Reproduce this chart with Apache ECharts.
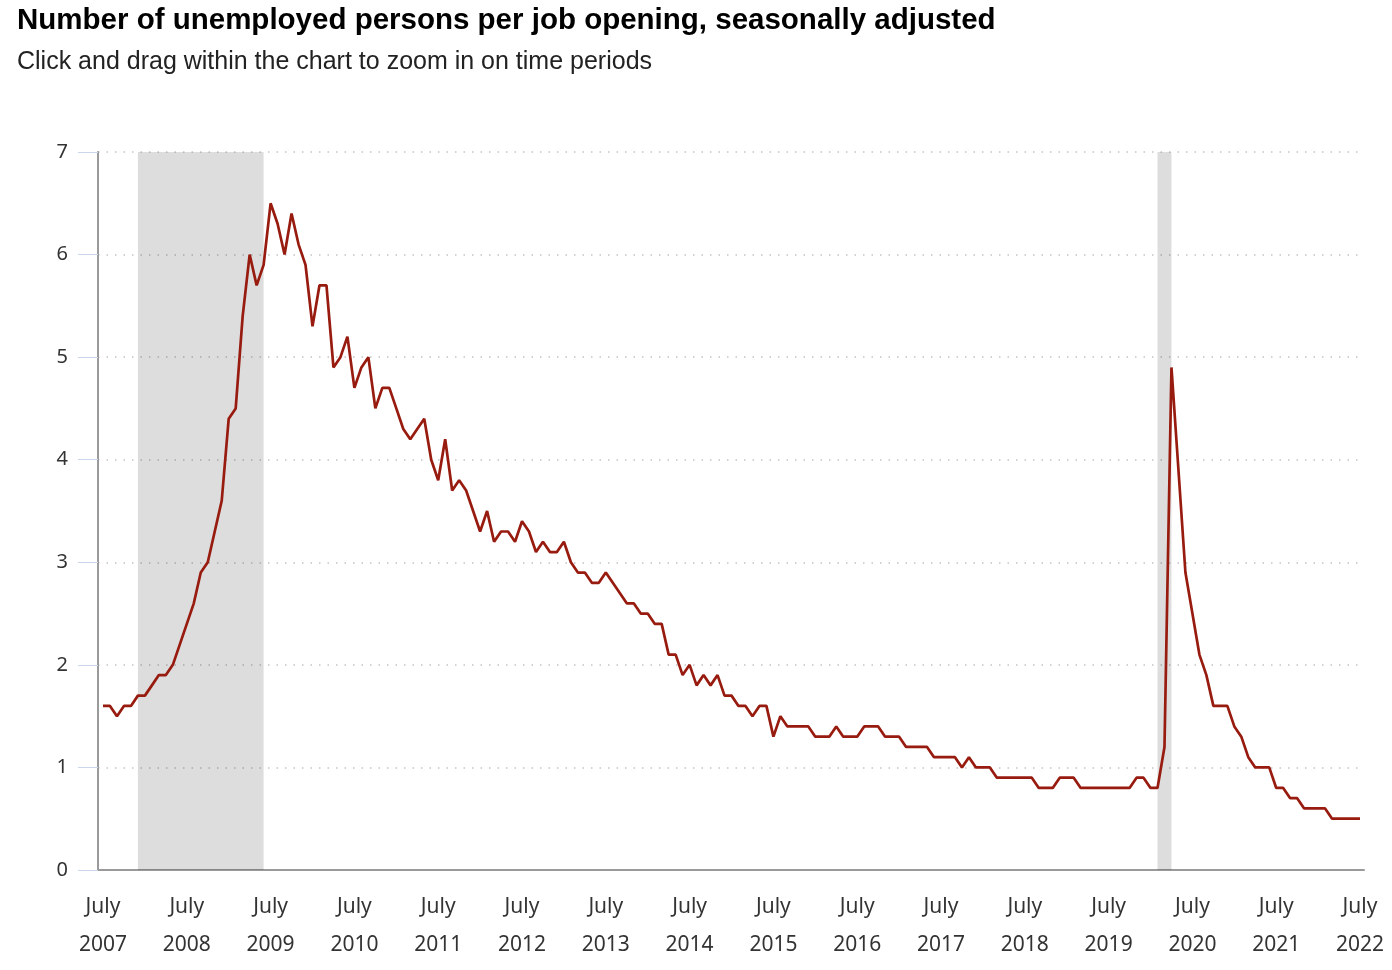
<!DOCTYPE html>
<html>
<head>
<meta charset="utf-8">
<script src="https://cdn.jsdelivr.net/npm/echarts@6/dist/echarts.min.js"></script>
<style>
html,body{margin:0;padding:0;background:#fff;}
#chart{width:1392px;height:970px;}
</style>
</head>
<body>
<div id="chart"></div>
<script>
// Monthly categories, July 2007 .. July 2022
const startYear = 2007, startMonth = 7, monthCount = 181;
const months = [];
for (let i = 0; i < monthCount; i++) {
  const t = (startMonth - 1) + i;
  const y = startYear + Math.floor(t / 12);
  const m = (t % 12) + 1;
  months.push(y + '-' + (m < 10 ? '0' + m : m));
}

// Unemployed persons per job opening
const ratio = [
  1.6,1.6,1.5,1.6,1.6,1.7,1.7,1.8,1.9,1.9,2.0,2.2,
  2.4,2.6,2.9,3.0,3.3,3.6,4.4,4.5,5.4,6.0,5.7,5.9,
  6.5,6.3,6.0,6.4,6.1,5.9,5.3,5.7,5.7,4.9,5.0,5.2,
  4.7,4.9,5.0,4.5,4.7,4.7,4.5,4.3,4.2,4.3,4.4,4.0,
  3.8,4.2,3.7,3.8,3.7,3.5,3.3,3.5,3.2,3.3,3.3,3.2,
  3.4,3.3,3.1,3.2,3.1,3.1,3.2,3.0,2.9,2.9,2.8,2.8,
  2.9,2.8,2.7,2.6,2.6,2.5,2.5,2.4,2.4,2.1,2.1,1.9,
  2.0,1.8,1.9,1.8,1.9,1.7,1.7,1.6,1.6,1.5,1.6,1.6,
  1.3,1.5,1.4,1.4,1.4,1.4,1.3,1.3,1.3,1.4,1.3,1.3,
  1.3,1.4,1.4,1.4,1.3,1.3,1.3,1.2,1.2,1.2,1.2,1.1,
  1.1,1.1,1.1,1.0,1.1,1.0,1.0,1.0,0.9,0.9,0.9,0.9,
  0.9,0.9,0.8,0.8,0.8,0.9,0.9,0.9,0.8,0.8,0.8,0.8,
  0.8,0.8,0.8,0.8,0.9,0.9,0.8,0.8,1.2,4.9,3.9,2.9,
  2.5,2.1,1.9,1.6,1.6,1.6,1.4,1.3,1.1,1.0,1.0,1.0,
  0.8,0.8,0.7,0.7,0.6,0.6,0.6,0.6,0.5,0.5,0.5,0.5,
  0.5
];

// Recession periods
const recessions = [
  ['2007-12', '2009-06'],
  ['2020-02', '2020-04']
];

// x tick labels: every July (month index)
const xTickIdx = [0, 12, 24, 36, 48, 60, 72, 84, 96, 108, 120, 132, 144, 156, 168, 180];
const yTicks = [0, 1, 2, 3, 4, 5, 6, 7];

const chart = echarts.init(document.getElementById('chart'), null, {renderer: 'canvas'});
const labelFont = '"Noto Sans", "Open Sans", sans-serif';

chart.setOption({
  animation: false,
  backgroundColor: '#ffffff',
  title: [
    {
      text: 'Number of unemployed persons per job opening, seasonally adjusted',
      left: 12, top: 1,
      textStyle: {fontFamily: '"Liberation Sans", Arial, sans-serif', fontSize: 29.5, fontWeight: 'bold', color: '#000'}
    },
    {
      text: 'Click and drag within the chart to zoom in on time periods',
      left: 12, top: 45,
      textStyle: {fontFamily: '"Liberation Sans", Arial, sans-serif', fontSize: 25, fontWeight: 'normal', color: '#222'}
    }
  ],
  grid: {left: 98, right: 28, top: 152, bottom: 100, containLabel: false},
  xAxis: {
    type: 'value',
    min: -0.716,
    max: monthCount - 1 + 0.57,
    axisLine: {show: true, onZero: false, lineStyle: {color: '#9a9a9a', width: 2}},
    axisTick: {show: false},
    splitLine: {show: false},
    axisLabel: {
      customValues: xTickIdx,
      showMinLabel: true, showMaxLabel: true,
      formatter: function (v) { return 'July\n' + months[Math.round(v)].slice(0, 4); },
      fontFamily: labelFont, fontSize: 21, color: '#333', lineHeight: 38, margin: 18
    }
  },
  yAxis: {
    type: 'value',
    min: yTicks[0], max: yTicks[yTicks.length - 1], interval: 1,
    axisLine: {show: true, onZero: false, lineStyle: {color: '#9a9a9a', width: 2}},
    axisTick: {show: true, length: 20, lineStyle: {color: '#ccd6eb', width: 1}},
    splitLine: {show: true, lineStyle: {color: '#c4c4c4', width: 1.5, type: [1.5, 7]}},
    axisLabel: {fontFamily: labelFont, fontSize: 20, color: '#333', margin: 30}
  },
  series: [
    {
      type: 'line',
      data: [],
      z: 1,
      silent: true,
      markArea: {
        silent: true,
        itemStyle: {color: 'rgba(0,0,0,0.135)'},
        data: recessions.map(r => [{xAxis: months.indexOf(r[0])}, {xAxis: months.indexOf(r[1])}])
      }
    },
    {
      type: 'line',
      data: ratio.map((v, i) => [i, v]),
      z: 3,
      showSymbol: false,
      symbol: 'none',
      lineStyle: {color: '#981b0f', width: 2.7},
      itemStyle: {color: '#981b0f'}
    }
  ]
});
</script>
</body>
</html>
